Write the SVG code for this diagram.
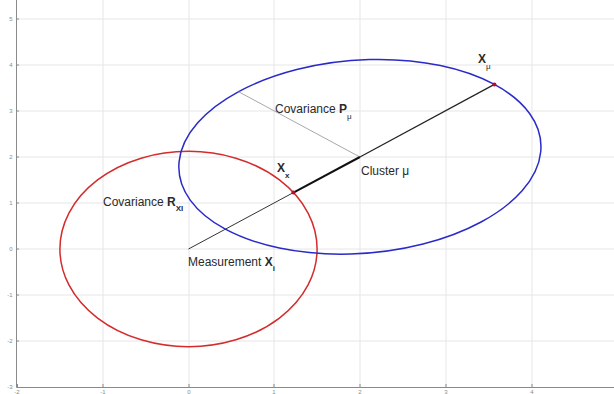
<svg xmlns="http://www.w3.org/2000/svg" width="614" height="394" viewBox="0 0 614 394">
<style>
.grid{stroke:#e6e6e6;stroke-width:1;fill:none}
.axis{stroke:#8a8a8a;stroke-width:1;fill:none}
.tick{font-family:"Liberation Sans",Arial,sans-serif;font-size:6px;fill:#8a8a8a}
.lbl{font-family:"Liberation Sans",Arial,sans-serif;font-size:12px;fill:#2a2a2a}
.b{font-weight:bold}
.sub{font-size:8px}
</style>
<rect width="614" height="394" fill="#fff"/>
<g id="grid">
<path class="grid" d="M103 0V387M189 0V387M274 0V387M360 0V387M446 0V387M532 0V387M16 19H614M16 65H614M16 111H614M16 157H614M16 203H614M16 249H614M16 295H614M16 341H614"/>
</g>
<g id="axes">
<path class="axis" d="M16.5 0V387.5H614"/>
<path class="axis" d="M16 19h3M16 65h3M16 111h3M16 157h3M16 203h3M16 249h3M16 295h3M16 341h3M17.5 387v-3M103 387v-3M189 387v-3M274 387v-3M360 387v-3M446 387v-3M532 387v-3"/>
<g class="tick" text-anchor="middle">
<text x="11" y="21">5</text><text x="11" y="67">4</text><text x="11" y="113">3</text><text x="11" y="159">2</text><text x="11" y="205">1</text><text x="11" y="251">0</text><text x="10" y="297">-1</text><text x="10" y="343">-2</text><text x="10" y="389">-3</text>
<text x="17" y="393.5">-2</text><text x="103" y="393.5">-1</text><text x="189" y="393.5">0</text><text x="274" y="393.5">1</text><text x="360" y="393.5">2</text><text x="446" y="393.5">3</text><text x="532" y="393.5">4</text>
</g>
</g>
<g id="measurement">
<ellipse cx="188.5" cy="249" rx="128.6" ry="97.7" fill="none" stroke="#d42c2c" stroke-width="1.5"/>
<text class="lbl" x="103" y="206">Covariance <tspan class="b">R</tspan><tspan class="b sub" dy="5">XI</tspan></text>
<text class="lbl" x="188" y="266">Measurement <tspan class="b">X</tspan><tspan class="b sub" dy="5">i</tspan></text>
</g>
<g id="cluster">
<g transform="matrix(85.7 0 0 -46.1 188.5 249)">
<ellipse cx="0" cy="0" rx="2.22" ry="2.0" transform="translate(2 2) rotate(45)" fill="none" stroke="#2a2ac8" stroke-width="1.5" vector-effect="non-scaling-stroke"/>
</g>
<text class="lbl" x="361" y="175">Cluster μ</text>
<text class="lbl" x="275" y="113">Covariance <tspan class="b">P</tspan><tspan class="sub" dy="6">μ</tspan></text>
</g>
<g id="connectors">
<line x1="359.9" y1="157" x2="238.7" y2="91.8" stroke="#a8a8a8" stroke-width="1"/>
<line x1="188.5" y1="249" x2="293.4" y2="192.6" stroke="#333" stroke-width="1"/>
<line x1="293.4" y1="192.6" x2="359.9" y2="157" stroke="#111" stroke-width="2"/>
<line x1="359.9" y1="157" x2="494.4" y2="84.4" stroke="#222" stroke-width="1.2"/>
</g>
<g id="point-xx">
<circle cx="293.4" cy="192.6" r="2" fill="#b0102c"/>
<text class="lbl b" x="277" y="172">X<tspan class="sub" dy="6">x</tspan></text>
</g>
<g id="point-xmu">
<circle cx="494.4" cy="84.4" r="2" fill="#b0102c"/>
<text class="lbl b" x="478" y="63">X<tspan class="sub" dy="6" font-weight="normal">μ</tspan></text>
</g>
</svg>
